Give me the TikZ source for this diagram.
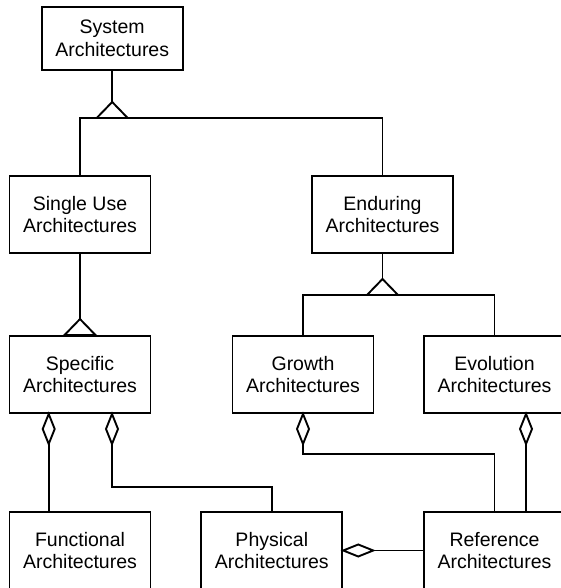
\documentclass[tikz,border=0pt]{standalone}
\usepackage{fontspec}
\setmainfont{Liberation Sans}
\begin{document}
\begin{tikzpicture}[x=1pt,y=-1pt,line width=1.9pt,
  box/.style={draw,minimum width=141pt,minimum height=77pt,align=center,inner sep=0pt,
    font=\fontsize{19.5}{22.5}\selectfont},
  vdia/.pic={\draw[fill=white,line join=miter] (0,0) -- (-6,15) -- (0,30) -- (6,15) -- cycle;},
  hdia/.pic={\draw[fill=white,line join=miter] (0,0) -- (15,-6) -- (30,0) -- (15,6) -- cycle;},
  gentri/.pic={\draw[fill=white,line join=miter] (-15.5,0) -- (0,-16) -- (15.5,0) -- cycle;}]
\useasboundingbox (0,0) rectangle (561,588);
\clip (0,0) rectangle (561,588);
% boxes
\node[box,minimum height=63pt] (sys) at (112.2,38.5) {System\\Architectures};
\node[box] (single) at (80,214.5) {Single Use\\Architectures};
\node[box] (endur) at (382.5,214.5) {Enduring\\Architectures};
\node[box] (spec) at (80,374.5) {Specific\\Architectures};
\node[box] (growth) at (303,374.5) {Growth\\Architectures};
\node[box] (evol) at (494.5,374.5) {Evolution\\Architectures};
\node[box] (func) at (80,550.5) {Functional\\Architectures};
\node[box] (phys) at (271.8,550.5) {Physical\\Architectures};
\node[box] (ref) at (494.5,550.5) {Reference\\Architectures};
% helper coordinates
\coordinate (bus1) at (0,118);
\coordinate (bus2) at (0,295);
\coordinate (j1) at (0,487);
\coordinate (j2) at (0,454);
\coordinate (d1) at ([xshift=-31.3pt]spec.south);
\coordinate (d2) at ([xshift=32pt]spec.south);
\coordinate (d3) at ([xshift=31.5pt]evol.south);
% generalisation
\draw (sys.south) -- (sys.south |- bus1);
\draw (single.north) -- (single.north |- bus1) -- (endur.north |- bus1) -- (endur.north);
\draw (endur.south) -- (endur.south |- bus2);
\draw (growth.north) -- (growth.north |- bus2) -- (evol.north |- bus2) -- (evol.north);
\draw (single.south) -- (spec.north);
% aggregation
\draw (d1) -- (d1 |- func.north);
\draw (d2) -- (d2 |- j1) -- (phys.north |- j1) -- (phys.north);
\draw (growth.south) -- (growth.south |- j2) -- (ref.north |- j2) -- (ref.north);
\draw (d3) -- (d3 |- ref.north);
\draw (ref.west) -- (phys.east);
% symbols
\pic at (sys.south |- bus1) {gentri};
\pic at (endur.south |- bus2) {gentri};
\pic at (spec.north) {gentri};
\pic at (d1) {vdia};
\pic at (d2) {vdia};
\pic at (growth.south) {vdia};
\pic at (d3) {vdia};
\pic at (phys.east) {hdia};
\end{tikzpicture}
\end{document}
